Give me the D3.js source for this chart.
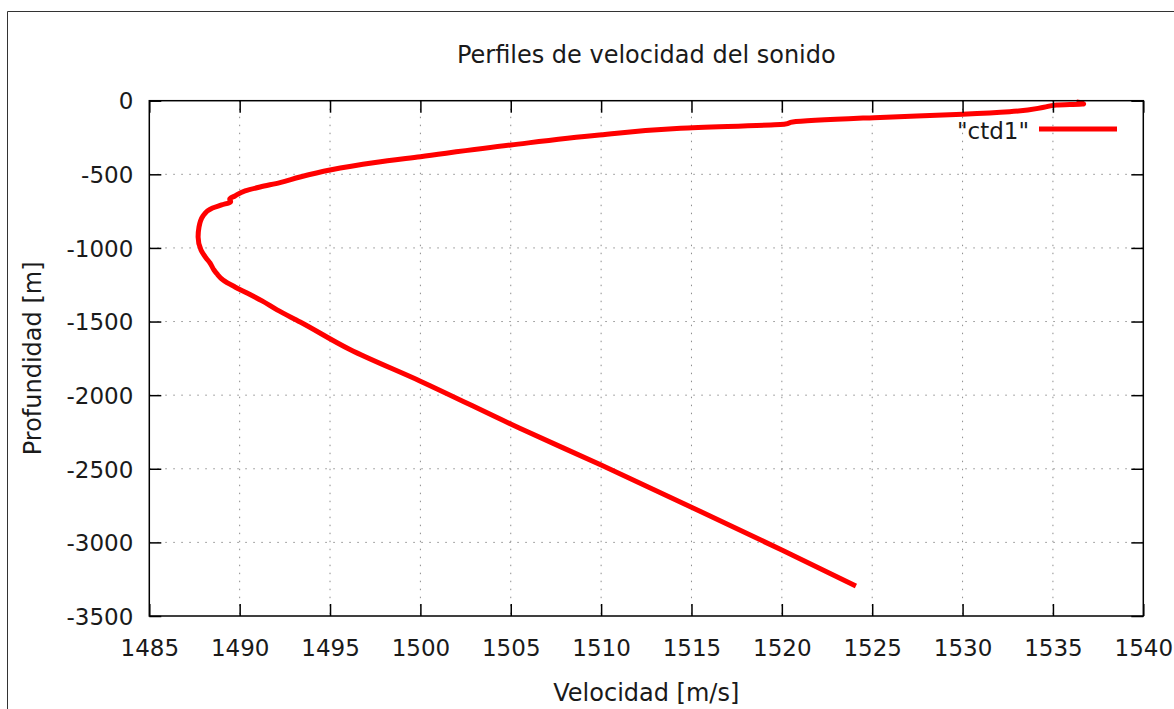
<!DOCTYPE html>
<html>
<head>
<meta charset="utf-8">
<script src="https://cdn.jsdelivr.net/npm/d3@7"></script>
<style>
  html, body { margin: 0; padding: 0; background: #fff; }
  svg { display: block; }
  text { font-family: "DejaVu Sans", sans-serif; fill: #1a1a1a; }
</style>
</head>
<body>
<svg id="chart" width="1174" height="709"></svg>
<script>
// Sound-speed profile from CTD cast "ctd1": velocity (m/s) versus depth (m)
const velocity = [
  1536.3, 1536.7, 1535.2, 1534.5, 1532.6, 1530.0, 1525.1, 1520.6, 1520.2, 1514.4,
  1509.9, 1505.0, 1500.0, 1497.5, 1495.0, 1493.34, 1492.23, 1491.13, 1490.3, 1489.74,
  1489.45, 1489.5, 1489.0, 1488.5, 1487.97, 1487.75, 1487.7, 1487.86, 1488.14, 1488.36,
  1488.58, 1488.75, 1489.08, 1489.74, 1490.41, 1491.24, 1492.07, 1493.35, 1496.1, 1500.0,
  1505.5, 1510.0, 1515.5, 1520.0, 1524.1
];
const depth = [
  -8, -22, -29, -45, -75, -92, -115, -145, -158, -187,
  -233, -301, -380, -420, -471, -518, -556, -586, -613, -647,
  -668, -686, -708, -729, -783, -858, -926, -1014, -1068, -1102,
  -1150, -1177, -1218, -1265, -1306, -1360, -1421, -1503, -1690, -1905,
  -2225, -2475, -2790, -3052, -3296
];

const xTicks = [1485, 1490, 1495, 1500, 1505, 1510, 1515, 1520, 1525, 1530, 1535, 1540];
const yTicks = [0, -500, -1000, -1500, -2000, -2500, -3000, -3500];

const titleText = "Perfiles de velocidad del sonido";
const xLabel = "Velocidad [m/s]";
const yLabel = "Profundidad [m]";
const seriesName = "\"ctd1\"";

const svg = d3.select("#chart");
const plotL = 149.3, plotR = 1143.3, plotT = 100.7, plotB = 616;
const fontSize = 23;
const labelSize = 24;

const x = d3.scaleLinear().domain([1485, 1540]).range([plotL, plotR]);
const y = d3.scaleLinear().domain([-3500, 0]).range([plotB, plotT]);

// outer frame (left and top edges)
svg.append("path")
  .attr("d", `M7.5,709 L7.5,11.5 L1174,11.5`)
  .attr("fill", "none").attr("stroke", "#333").attr("stroke-width", 1);

// dotted grid
const grid = svg.append("g").attr("stroke", "#8c8c8c").attr("stroke-width", 1)
  .attr("stroke-dasharray", "1.5,6.5");
grid.selectAll(".gx").data(xTicks.slice(1, -1)).enter().append("line")
  .attr("x1", d => x(d)).attr("x2", d => x(d))
  .attr("y1", plotT).attr("y2", plotB);
grid.selectAll(".gy").data(yTicks.slice(1, -1)).enter().append("line")
  .attr("y1", d => y(d)).attr("y2", d => y(d))
  .attr("x1", plotL).attr("x2", plotR);

// profile line (depth is monotonic along the cast)
const pts = velocity.map((v, i) => [v, depth[i]]);
const line = d3.line().x(d => x(d[0])).y(d => y(d[1])).curve(d3.curveMonotoneY);
svg.append("path").datum(pts)
  .attr("d", line)
  .attr("fill", "none").attr("stroke", "#ff0000")
  .attr("stroke-width", 5).attr("stroke-linejoin", "round").attr("stroke-linecap", "butt");

// axes with inward ticks on all four sides
const tick = -12;
const fmt = d => String(d);
const gB = svg.append("g").attr("transform", `translate(0,${plotB})`)
  .call(d3.axisBottom(x).tickValues(xTicks).tickFormat(fmt)
    .tickSizeInner(tick).tickSizeOuter(0).tickPadding(24));
const gL = svg.append("g").attr("transform", `translate(${plotL},0)`)
  .call(d3.axisLeft(y).tickValues(yTicks).tickFormat(fmt)
    .tickSizeInner(tick).tickSizeOuter(0).tickPadding(16));
const gT = svg.append("g").attr("transform", `translate(0,${plotT})`)
  .call(d3.axisTop(x).tickValues(xTicks).tickFormat("")
    .tickSizeInner(tick).tickSizeOuter(0));
const gR = svg.append("g").attr("transform", `translate(${plotR},0)`)
  .call(d3.axisRight(y).tickValues(yTicks).tickFormat("")
    .tickSizeInner(tick).tickSizeOuter(0));

[gB, gL, gT, gR].forEach(g => {
  g.select(".domain").remove();
  g.selectAll(".tick line").attr("stroke", "#000").attr("stroke-width", 1.5);
  g.selectAll("text").attr("font-size", fontSize).attr("font-family", "DejaVu Sans").attr("fill", "#1a1a1a");
});
gL.selectAll("text").attr("dy", "0.36em");

// plot border
svg.append("rect")
  .attr("x", plotL).attr("y", plotT)
  .attr("width", plotR - plotL).attr("height", plotB - plotT)
  .attr("fill", "none").attr("stroke", "#000").attr("stroke-width", 1.5);

// title and axis labels
svg.append("text").attr("x", (plotL + plotR) / 2).attr("y", 63)
  .attr("text-anchor", "middle").attr("font-size", labelSize).text(titleText);
svg.append("text").attr("x", (plotL + plotR) / 2).attr("y", 701)
  .attr("text-anchor", "middle").attr("font-size", labelSize).text(xLabel);
svg.append("text")
  .attr("transform", `translate(41,${(plotT + plotB) / 2}) rotate(-90)`)
  .attr("text-anchor", "middle").attr("font-size", labelSize).text(yLabel);

// legend
svg.append("text").attr("x", 1029).attr("y", 139)
  .attr("text-anchor", "end").attr("font-size", fontSize).text(seriesName);
svg.append("line").attr("x1", 1039).attr("x2", 1117).attr("y1", 129).attr("y2", 129)
  .attr("stroke", "#ff0000").attr("stroke-width", 5);
</script>
</body>
</html>
